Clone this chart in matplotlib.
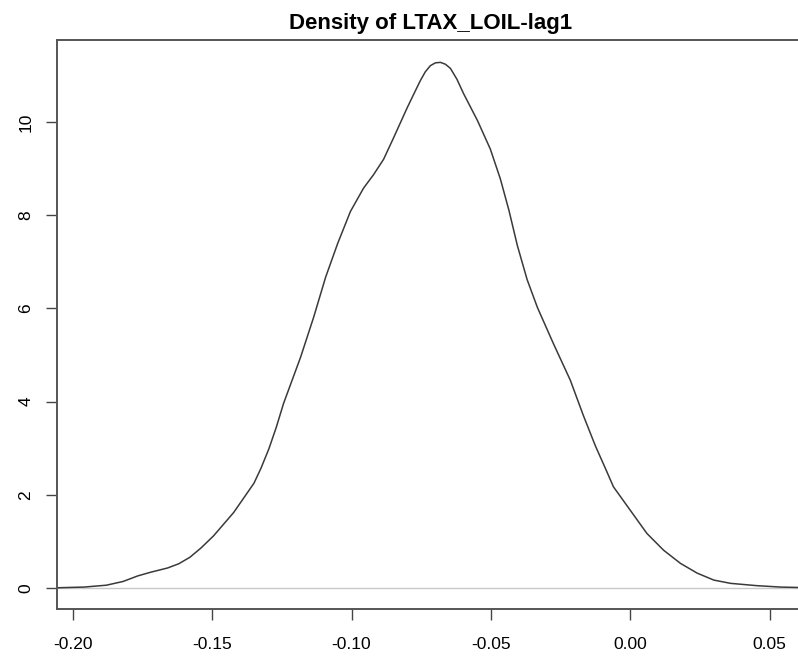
import matplotlib.pyplot as plt

# density curve
x_vals = [-0.2057, -0.196, -0.188, -0.182, -0.1767, -0.172, -0.166, -0.162,
          -0.158, -0.154, -0.1495, -0.1423, -0.135, -0.1325, -0.1297, -0.127,
          -0.1244, -0.1183, -0.1136, -0.1093, -0.105, -0.1004, -0.0957, -0.0921,
          -0.0885, -0.085, -0.080, -0.0775, -0.0753, -0.0735, -0.0717, -0.0699,
          -0.0681, -0.0663, -0.0645, -0.0622, -0.0598, -0.0548, -0.0502, -0.0466,
          -0.0435, -0.0405, -0.037, -0.0333, -0.0276, -0.0215, -0.0168, -0.0125,
          -0.009, -0.006, 0.0, 0.006, 0.012, 0.018, 0.024, 0.030,
          0.036, 0.0455, 0.054, 0.0627]
y_vals = [0.005, 0.02, 0.06, 0.14, 0.26, 0.34, 0.43, 0.52,
          0.66, 0.86, 1.12, 1.62, 2.25, 2.57, 2.98, 3.45,
          3.96, 4.95, 5.81, 6.67, 7.39, 8.08, 8.58, 8.87,
          9.2, 9.65, 10.31, 10.62, 10.89, 11.08, 11.21, 11.27,
          11.28, 11.24, 11.15, 10.92, 10.61, 10.03, 9.42, 8.78,
          8.1, 7.35, 6.62, 6.02, 5.25, 4.46, 3.7, 3.05,
          2.58, 2.17, 1.67, 1.17, 0.81, 0.53, 0.32, 0.17,
          0.10, 0.05, 0.02, 0.008]

x_ticks = [-0.20, -0.15, -0.10, -0.05, 0.00, 0.05]
x_labels = ["-0.20", "-0.15", "-0.10", "-0.05", "0.00", "0.05"]
y_ticks = [0, 2, 4, 6, 8, 10]
title = "Density of LTAX_LOIL-lag1"

plt.rcParams['font.family'] = ['Liberation Sans', 'DejaVu Sans']

fig = plt.figure(figsize=(7.98, 6.58), dpi=100)
ax = fig.add_axes([0.0714, 0.0745, 0.9373, 0.8647])

# zero line like R plot.density
ax.axhline(0, color="#c8c8c8", lw=1.0, zorder=1)
ax.plot(x_vals, y_vals, color="#3a3a3a", lw=1.1, zorder=2)

ax.set_xlim(-0.2057, 0.0627)
ax.set_ylim(-0.45, 11.76)

ax.set_xticks(x_ticks)
ax.set_xticklabels(x_labels)
ax.set_yticks(y_ticks)
ax.set_yticklabels([str(v) for v in y_ticks], rotation=90, va="center")

ax.tick_params(axis="x", length=8, width=1.0, color="#444444", pad=12,
               labelsize=12.5, labelcolor="#000000")
ax.tick_params(axis="y", length=8, width=1.0, color="#444444", pad=9,
               labelsize=12.5, labelcolor="#000000")

for s in ax.spines.values():
    s.set_color("#555555")
    s.set_linewidth(1.4)

ax.set_title(title, fontsize=16, fontweight="bold", pad=8)

fig.savefig("out.png", dpi=100)
plt.close()
